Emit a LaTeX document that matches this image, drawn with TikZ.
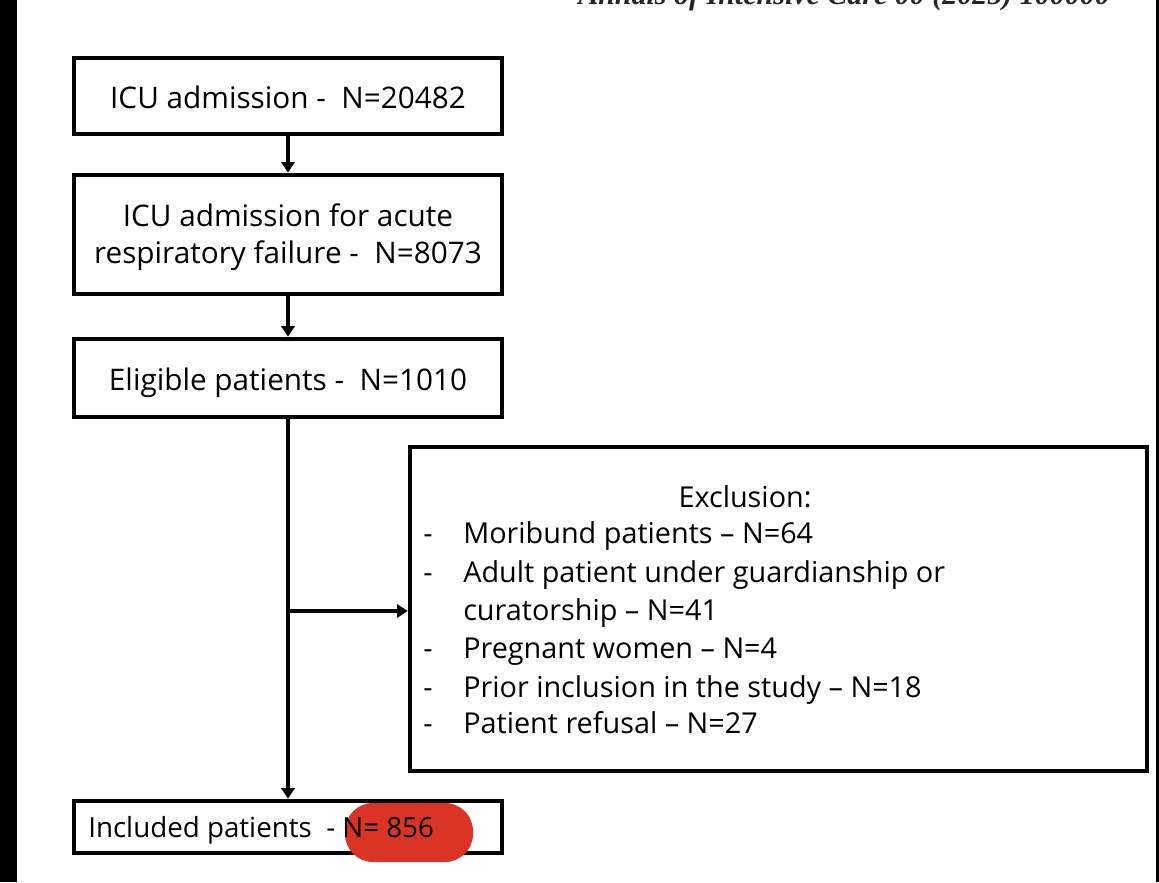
\documentclass[tikz,border=0pt]{standalone}
\usepackage{fontspec}
\setmainfont{Open Sans}
\newfontfamily\headerfont{Liberation Serif}
\usetikzlibrary{arrows.meta}
\definecolor{markred}{RGB}{218,52,38}
\begin{document}
\begin{tikzpicture}[x=0.75pt,y=-0.75pt,
  flowbox/.style={draw=black, line width=3.5pt, inner sep=0pt, minimum width=428*0.75pt},
  boxtext/.style={anchor=base, inner sep=0pt, font=\fontsize{22.3}{27}\selectfont},
  listtext/.style={anchor=base west, inner sep=0pt, font=\fontsize{21.6}{26}\selectfont},
  link/.style={line width=3pt, -{Triangle[length=8pt,width=10pt]}}]
\useasboundingbox (0,0) rectangle (1159,882);
% page edges
\fill[black] (0,0) rectangle (17,882);
\fill[black] (1156,0) rectangle (1159,882);
% running header, cut by the top edge
\node[anchor=base west, inner sep=0pt, text=black!85, font=\headerfont\itshape\bfseries\fontsize{22.5}{26}\selectfont] (hdr) at (578,4) {Annals of Intensive Care 00 (2025) 100000};

% flow boxes
\node[flowbox, minimum height=76*0.75pt] (adm) at (288,96) {};
\node[flowbox, minimum height=119*0.75pt] (arf) at (288,234.5) {};
\node[flowbox, minimum height=78*0.75pt] (elig) at (288,378) {};
\node[draw=black, line width=3.5pt, inner sep=0pt, minimum width=737*0.75pt, minimum height=324*0.75pt] (excl) at (778.5,609) {};
\node[flowbox, minimum height=52*0.75pt] (incl) at (288,827) {};
% highlight behind the final count
\fill[markred, rounded corners=28*0.75pt] (345,803) rectangle (473,862);

% box texts
\node[boxtext] (t1) at (288,108) {ICU admission -\ \ N=20482};
\node[boxtext] (t2a) at (288,226) {ICU admission for acute};
\node[boxtext] (t2b) at (288,263) {respiratory failure -\ \ N=8073};
\node[boxtext] (t3) at (288,390) {Eligible patients -\ \ N=1010};
\node[listtext, font=\fontsize{20.8}{25}\selectfont] (t4) at (88,837) {Included patients\ \ - N= 856};

% exclusion list
\node[listtext, anchor=base] (e0) at (745,507) {Exclusion:};
\foreach \y/\txt [count=\i] in {543/{Moribund patients -- N=64},
    582/{Adult patient under guardianship or},
    658/{Pregnant women -- N=4},
    697/{Prior inclusion in the study -- N=18},
    733/{Patient refusal -- N=27}} {
  \node[listtext] (d\i) at (423,\y) {-};
  \node[listtext] (e\i) at (463,\y) {\txt};
}
\node[listtext] (e2b) at (463,620) {curatorship -- N=41};

% connectors
\draw[link] (adm.south) -- (arf.north);
\draw[link] (arf.south) -- (elig.north);
\draw[link] (elig.south) -- (incl.north);
\coordinate (branch) at (288,611);
\draw[link] (branch) -- (branch -| excl.west);
\end{tikzpicture}
\end{document}
